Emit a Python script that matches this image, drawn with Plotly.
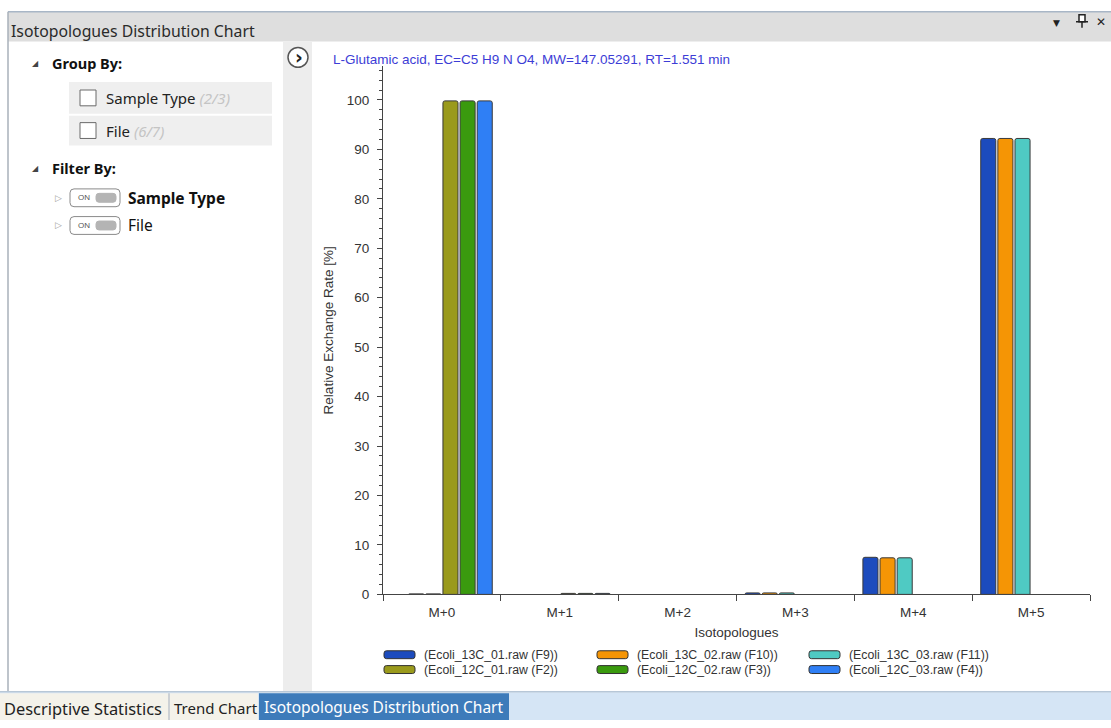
import plotly.graph_objects as go

# ---- data ---------------------------------------------------------------
isotopologues = ["M+0", "M+1", "M+2", "M+3", "M+4", "M+5"]

series_names = [
    "(Ecoli_13C_01.raw (F9))",
    "(Ecoli_13C_02.raw (F10))",
    "(Ecoli_13C_03.raw (F11))",
    "(Ecoli_12C_01.raw (F2))",
    "(Ecoli_12C_02.raw (F3))",
    "(Ecoli_12C_03.raw (F4))",
]

ecoli_13c_01 = [0.0, 0.0, 0.0, 0.3, 7.5, 92.2]
ecoli_13c_02 = [0.1, 0.0, 0.0, 0.3, 7.4, 92.2]
ecoli_13c_03 = [0.1, 0.0, 0.0, 0.3, 7.4, 92.2]
ecoli_12c_01 = [99.8, 0.2, 0.0, 0.0, 0.0, 0.0]
ecoli_12c_02 = [99.8, 0.2, 0.0, 0.0, 0.0, 0.0]
ecoli_12c_03 = [99.8, 0.2, 0.0, 0.0, 0.0, 0.0]

series_values = [ecoli_13c_01, ecoli_13c_02, ecoli_13c_03,
                 ecoli_12c_01, ecoli_12c_02, ecoli_12c_03]

series_colors = ["#1c4bbd", "#f59505", "#4fcac3",
                 "#9a9a1c", "#3a9a0e", "#2f7ff5"]

y_ticks = [0, 10, 20, 30, 40, 50, 60, 70, 80, 90, 100]

chart_title = "L-Glutamic acid, EC=C5 H9 N O4, MW=147.05291, RT=1.551 min"

# ---- page geometry helpers (pixel -> paper) ----------------------------
W, H = 1111, 728


def px(x):
    return x / W


def py(y):
    return 1 - y / H


UI_FONT = "Noto Sans"
CHART_FONT = "Liberation Sans"
CHART_SIZE = 13.5

fig = go.Figure()

for name, vals, col in zip(series_names, series_values, series_colors):
    # empty isotopologue slots are left without a bar
    fig.add_trace(go.Bar(
        x=isotopologues, y=[v if v > 0 else None for v in vals], name=name,
        marker=dict(color=col, line=dict(color="#3a3a3a", width=1)),
        showlegend=False,
    ))

shapes = []
annotations = []


def rect(x0, y0, x1, y1, fill, line=None, lw=0, layer="below"):
    shapes.append(dict(type="rect", xref="paper", yref="paper",
                       x0=px(x0), x1=px(x1), y0=py(y1), y1=py(y0),
                       fillcolor=fill, layer=layer,
                       line=dict(color=line or fill, width=lw)))


def hline(x0, x1, y, color, w=1, layer="below"):
    shapes.append(dict(type="line", xref="paper", yref="paper",
                       x0=px(x0), x1=px(x1), y0=py(y), y1=py(y),
                       line=dict(color=color, width=w), layer=layer))


def vline(x, y0, y1, color, w=1, layer="below"):
    shapes.append(dict(type="line", xref="paper", yref="paper",
                       x0=px(x), x1=px(x), y0=py(y0), y1=py(y1),
                       line=dict(color=color, width=w), layer=layer))


def rounded(x0, y0, x1, y1, r, fill, line, lw=1, layer="above"):
    p = (f"M {px(x0 + r)},{py(y0)} L {px(x1 - r)},{py(y0)} "
         f"Q {px(x1)},{py(y0)} {px(x1)},{py(y0 + r)} "
         f"L {px(x1)},{py(y1 - r)} Q {px(x1)},{py(y1)} {px(x1 - r)},{py(y1)} "
         f"L {px(x0 + r)},{py(y1)} Q {px(x0)},{py(y1)} {px(x0)},{py(y1 - r)} "
         f"L {px(x0)},{py(y0 + r)} Q {px(x0)},{py(y0)} {px(x0 + r)},{py(y0)} Z")
    shapes.append(dict(type="path", xref="paper", yref="paper", path=p,
                       fillcolor=fill, line=dict(color=line, width=lw),
                       layer=layer))


def text(x, y, s, size=14, color="#1e1e1e", family=UI_FONT, anchor="left"):
    annotations.append(dict(xref="paper", yref="paper", x=px(x), y=py(y),
                            text=s, showarrow=False, xanchor=anchor,
                            yanchor="middle",
                            font=dict(size=size, color=color, family=family)))


# ---- window chrome --------------------------------------------------------
rect(8, 12, W, 42, "#dedede")
hline(8, W, 12, "#a8b6c6", 1.5)
vline(8, 12, 700, "#a9b1ba", 1.5)
rect(283, 42, 312, 699, "#ededed")
text(9, 31, "Isotopologues Distribution Chart", size=15.8, color="#2a2a2a")

# header icons: dropdown, pin, close
text(1056, 23, "▼", size=9, color="#222", family="DejaVu Sans", anchor="center")
rect(1079, 15, 1085, 22, "#ffffff", "#222", 1.5, layer="above")
hline(1076, 1088, 22, "#222", 1.5, layer="above")
vline(1082, 22, 28, "#222", 1.5, layer="above")
text(1101, 22, "✕", size=12, color="#222", family="DejaVu Sans", anchor="center")

# collapse button
shapes.append(dict(type="circle", xref="paper", yref="paper",
                   x0=px(288), x1=px(308), y0=py(68), y1=py(48),
                   fillcolor="#ffffff", line=dict(color="#555", width=1.5),
                   layer="above"))
text(298.5, 57.5, "<b>›</b>", size=19, color="#222", family="DejaVu Sans", anchor="center")

# Group By section
text(30, 64, "◢", size=8, color="#444", family="DejaVu Sans")
text(50, 64, "<b>Group By:</b>", size=14.5, color="#111")
rect(69, 83, 272, 115, "#efefef")
rect(69, 117, 272, 147, "#efefef")
rect(80, 91, 96, 107, "#ffffff", "#6a6a6a", 1, layer="above")
rect(80, 124, 96, 140, "#ffffff", "#6a6a6a", 1, layer="above")
text(104, 99, "Sample Type <i><span style='color:#c4c4c4'>(2/3)</span></i>",
     size=15, color="#222")
text(104, 132, "File <i><span style='color:#c4c4c4'>(6/7)</span></i>",
     size=15, color="#222")

# Filter By section
text(30, 170, "◢", size=8, color="#444", family="DejaVu Sans")
text(50, 170, "<b>Filter By:</b>", size=14.5, color="#111")
for yy, label in [(200, "<b>Sample Type</b>"), (228, "File")]:
    text(53, yy, "▷", size=9, color="#a0a0a0", family="DejaVu Sans")
    rounded(70, yy - 9, 120, yy + 9, 4, "#ffffff", "#8a8a8a", 1)
    text(76, yy, "ON", size=8, color="#555", family=CHART_FONT)
    rounded(96, yy - 4.5, 116, yy + 4.5, 3, "#b4b4b4", "#b4b4b4", 1)
    text(126, yy, label, size=15.5, color="#111")

# bottom tab strip
rect(0, 700, W, H, "#d5e5f5")
hline(0, W, 699.5, "#b7c7d7", 1.5)
rect(0, 701, 168, H, "#f4f2ea")
rect(170, 701, 258, H, "#f4f2ea")
vline(169, 701, H, "#c9c9c9", 1.5)
rect(259, 701, 509, H, "#3d7bba")
text(2, 716, "Descriptive Statistics", size=16.4, color="#222")
text(172, 716, "Trend Chart", size=15, color="#222")
text(262, 715, "Isotopologues Distribution Chart", size=15.5, color="#ffffff")

# ---- legend (two rows of three) -----------------------------------------
legend_cols = [384, 597, 809]
legend_rows = [662, 677]
for i, (name, col) in enumerate(zip(series_names, series_colors)):
    lx = legend_cols[i % 3]
    ly = legend_rows[i // 3]
    rounded(lx, ly - 4, lx + 31, ly + 4, 2.5, col, "#333333", 1)
    text(lx + 38, ly, name, size=12.3, color="#333", family=CHART_FONT)

fig.update_layout(
    width=W, height=H,
    margin=dict(l=0, r=0, t=0, b=0),
    paper_bgcolor="#ffffff",
    plot_bgcolor="#ffffff",
    barmode="group",
    bargap=0.128,
    bargroupgap=0.12,
    barcornerradius=2,
    showlegend=False,
    title=dict(text=chart_title, xref="paper", yref="paper",
               x=px(333), y=py(60), xanchor="left", yanchor="middle",
               font=dict(family=CHART_FONT, size=CHART_SIZE, color="#3d3dd6")),
    shapes=shapes,
    annotations=annotations,
    font=dict(family=CHART_FONT, color="#333"),
)

fig.update_xaxes(
    domain=[px(383), px(1090)],
    tickson="boundaries",
    ticks="outside", ticklen=6, tickcolor="#444", tickwidth=1,
    ticklabelstandoff=5,
    showline=True, linecolor="#444", linewidth=1,
    showgrid=False, zeroline=False,
    tickfont=dict(size=CHART_SIZE, color="#333", family=CHART_FONT),
    title=dict(text="Isotopologues", standoff=8,
               font=dict(size=CHART_SIZE, color="#333", family=CHART_FONT)),
)

fig.update_yaxes(
    domain=[py(601), py(67)],
    range=[0, 106.8],
    tickvals=y_ticks,
    ticks="outside", ticklen=5, tickcolor="#444", tickwidth=1,
    ticklabelstandoff=5,
    minor=dict(dtick=2, ticks="outside", ticklen=3, tickcolor="#444"),
    showline=True, linecolor="#444", linewidth=1,
    showgrid=False, zeroline=False,
    tickfont=dict(size=CHART_SIZE, color="#333", family=CHART_FONT),
    title=dict(text="Relative Exchange Rate [%]", standoff=10,
               font=dict(size=CHART_SIZE, color="#333", family=CHART_FONT)),
)

fig.write_html("out.html")
